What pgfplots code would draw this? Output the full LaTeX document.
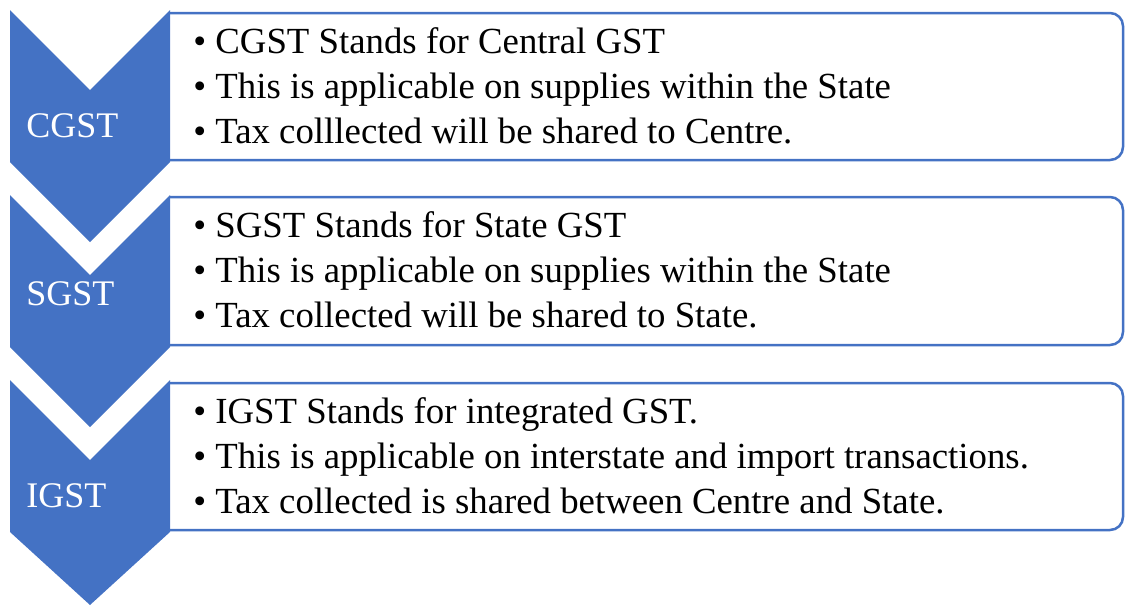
\documentclass[border=0pt]{standalone}
\usepackage{pgfplots}
\pgfplotsset{compat=1.18}
\usepackage{fontspec}
\setmainfont{Liberation Serif}
\definecolor{offblue}{HTML}{4472C4}
\begin{document}
\begin{tikzpicture}
\begin{axis}[
  width=563pt, height=303pt, scale only axis,
  axis lines=none,
  xmin=0, xmax=1126, ymin=0, ymax=606,
  y dir=reverse, clip=false,
]
% keep the whole axis area in the bounding box
\path (rel axis cs:0,0) rectangle (rel axis cs:1,1);
% chevrons
\addplot[fill=offblue, draw=none] coordinates {
  (10,10)(90,90)(170,10)(170,162)(90,242)(10,162)};
\addplot[fill=offblue, draw=none] coordinates {
  (10,195)(90,275)(170,195)(170,347)(90,427)(10,347)};
\addplot[fill=offblue, draw=none] coordinates {
  (10,380)(90,460)(170,380)(170,532)(90,605)(10,532)};
% boxes
\addplot[draw=offblue, line width=1.25pt, rounded corners=6.5pt] coordinates {
  (170,13)(1123,13)(1123,160)(170,160)};
\addplot[draw=offblue, line width=1.25pt, rounded corners=6.5pt] coordinates {
  (170,197)(1123,197)(1123,345)(170,345)};
\addplot[draw=offblue, line width=1.25pt, rounded corners=6.5pt] coordinates {
  (170,383)(1123,383)(1123,530)(170,530)};
% labels
\tikzset{lab/.style={anchor=base west, inner sep=0pt, text=white, font=\fontsize{18}{22}\selectfont},
  txt/.style={anchor=base west, inner sep=0pt, font=\fontsize{18.4}{22}\selectfont}}
\node[lab] at (axis cs:26,137) {CGST};
\node[lab] at (axis cs:26,305) {SGST};
\node[lab] at (axis cs:26,507) {IGST};
% box 1
\node[txt] at (axis cs:193,53) {•};
\node[txt] at (axis cs:193,98) {•};
\node[txt] at (axis cs:193,143) {•};
\node[txt] at (axis cs:215,53) {CGST Stands for Central GST};
\node[txt] at (axis cs:215,98) {This is applicable on supplies within the State};
\node[txt] at (axis cs:215,143) {Tax colllected will be shared to Centre.};
% box 2
\node[txt] at (axis cs:193,237) {•};
\node[txt] at (axis cs:193,282) {•};
\node[txt] at (axis cs:193,327) {•};
\node[txt] at (axis cs:215,237) {SGST Stands for State GST};
\node[txt] at (axis cs:215,282) {This is applicable on supplies within the State};
\node[txt] at (axis cs:215,327) {Tax collected will be shared to State.};
% box 3
\node[txt] at (axis cs:193,423) {•};
\node[txt] at (axis cs:193,468) {•};
\node[txt] at (axis cs:193,513) {•};
\node[txt] at (axis cs:215,423) {IGST Stands for integrated GST.};
\node[txt] at (axis cs:215,468) {This is applicable on interstate and import transactions.};
\node[txt] at (axis cs:215,513) {Tax collected is shared between Centre and State.};
\end{axis}
\end{tikzpicture}
\end{document}
